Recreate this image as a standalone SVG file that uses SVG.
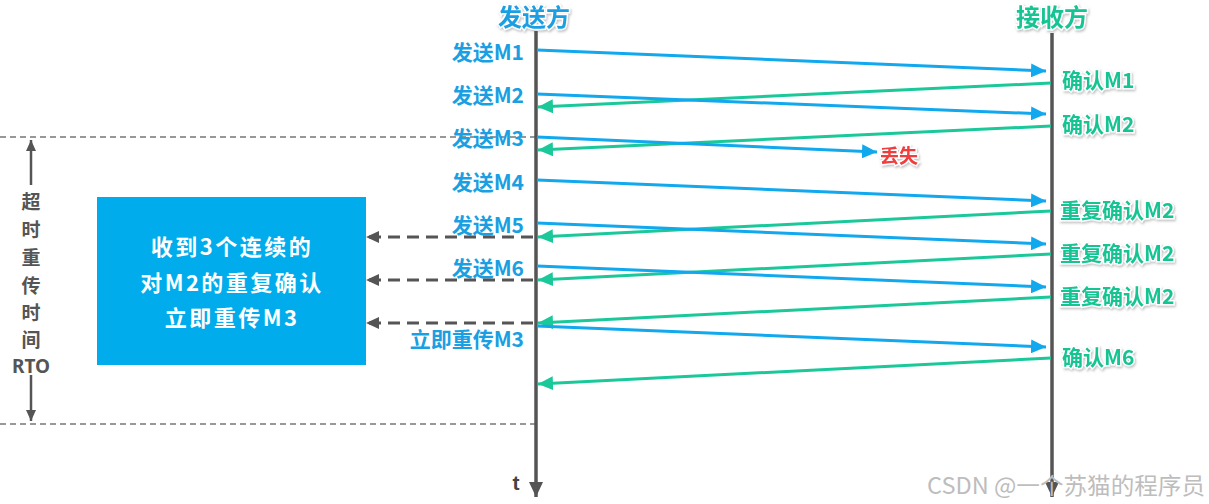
<svg xmlns="http://www.w3.org/2000/svg" width="1209" height="504" viewBox="0 0 1209 504">
<defs>
<style>
.cjk{font-family:"Noto Sans CJK SC","Noto Sans",sans-serif;font-weight:bold;}
.lb{font-size:21px;fill:#1a9fe2;}
.lg{font-size:21px;fill:#17c493;}
.sh{stroke:#fff;stroke-width:3;paint-order:stroke;filter:url(#shadow);}
.life{stroke:#555;stroke-width:3.5;fill:none;}
.mb{stroke:#12a8ee;stroke-width:3;fill:none;marker-end:url(#ab);}
.mg{stroke:#1ac89a;stroke-width:3;fill:none;marker-end:url(#ag);}
.dash{stroke:#555;stroke-width:3;stroke-dasharray:12 7;fill:none;marker-end:url(#ad);}
.hd{stroke:#777;stroke-width:1.3;stroke-dasharray:6 4;fill:none;}
.rto{stroke:#555;stroke-width:2.5;fill:none;}
</style>
<filter id="shadow" x="-20%" y="-30%" width="140%" height="160%">
<feDropShadow dx="1" dy="1.5" stdDeviation="1" flood-color="#888" flood-opacity="0.55"/>
</filter>
<marker id="ab" markerUnits="userSpaceOnUse" markerWidth="16" markerHeight="14" refX="15" refY="7" orient="auto"><path d="M0,0 L15,7 L0,14 Z" fill="#12a8ee"/></marker>
<marker id="ag" markerUnits="userSpaceOnUse" markerWidth="16" markerHeight="14" refX="15" refY="7" orient="auto"><path d="M0,0 L15,7 L0,14 Z" fill="#1ac89a"/></marker>
<marker id="ad" markerUnits="userSpaceOnUse" markerWidth="14" markerHeight="12" refX="13" refY="6" orient="auto"><path d="M0,0 L13,6 L0,12 Z" fill="#555"/></marker>
<marker id="ak" markerUnits="userSpaceOnUse" markerWidth="16" markerHeight="14" refX="15" refY="7" orient="auto"><path d="M0,0 L15,7 L0,14 Z" fill="#555"/></marker>
<marker id="ar" markerUnits="userSpaceOnUse" markerWidth="12" markerHeight="10" refX="11" refY="5" orient="auto"><path d="M0,0 L11,5 L0,10 Z" fill="#555"/></marker>
</defs>
<rect width="1209" height="504" fill="#fff"/>

<g id="timeout-lines">
<line class="hd" x1="0" y1="137" x2="536" y2="137"/>
<line class="hd" x1="0" y1="424" x2="536" y2="424"/>
</g>

<g id="sender">
<text class="cjk sh" x="534" y="26" text-anchor="middle" font-size="24" fill="#1a9fe2">发送方</text>
<line class="life" x1="536" y1="31" x2="536" y2="497" marker-end="url(#ak)"/>
<text x="516" y="490" text-anchor="middle" font-family="Liberation Sans,sans-serif" font-weight="bold" font-size="21" fill="#444">t</text>
</g>

<g id="receiver">
<text class="cjk sh" x="1052" y="26" text-anchor="middle" font-size="24" fill="#17c493">接收方</text>
<line class="life" x1="1052" y1="33" x2="1052" y2="497" marker-end="url(#ak)"/>
</g>

<g id="sender-labels" class="cjk lb" text-anchor="end">
<text x="524" y="60">发送M1</text>
<text x="524" y="103">发送M2</text>
<text x="524" y="146">发送M3</text>
<text x="524" y="190">发送M4</text>
<text x="524" y="233">发送M5</text>
<text x="524" y="276">发送M6</text>
<text x="524" y="347">立即重传M3</text>
</g>

<g id="receiver-labels" class="cjk lg sh">
<text x="1062" y="88">确认M1</text>
<text x="1062" y="132">确认M2</text>
<text x="1060" y="218">重复确认M2</text>
<text x="1060" y="261">重复确认M2</text>
<text x="1060" y="304">重复确认M2</text>
<text x="1062" y="365">确认M6</text>
</g>

<g id="lost">
<text class="cjk sh" x="880" y="163" font-size="19" fill="#f03c3c">丢失</text>
</g>

<g id="rto">
<line class="rto" x1="31" y1="185" x2="31" y2="140" marker-end="url(#ar)"/>
<line class="rto" x1="31" y1="375" x2="31" y2="421" marker-end="url(#ar)"/>
<g class="cjk" font-size="19" fill="#555" text-anchor="middle">
<text x="31" y="209">超</text>
<text x="31" y="237">时</text>
<text x="31" y="265">重</text>
<text x="31" y="293">传</text>
<text x="31" y="320">时</text>
<text x="31" y="347">间</text>
<text x="31" y="373" font-family="Noto Sans,sans-serif">RTO</text>
</g>
</g>

<g id="box">
<rect x="97" y="197" width="269" height="168" fill="#00acec"/>
<g class="cjk" font-size="22" fill="#fff" text-anchor="middle" letter-spacing="2.5">
<text x="232" y="255">收到3个连续的</text>
<text x="232" y="291">对M2的重复确认</text>
<text x="232" y="326">立即重传M3</text>
</g>
</g>

<g id="connectors">
<line class="mb" x1="537" y1="50" x2="1046" y2="71"/>
<line class="mg" x1="1051" y1="83" x2="538" y2="107"/>
<line class="mb" x1="537" y1="94" x2="1046" y2="114"/>
<line class="mg" x1="1051" y1="126" x2="538" y2="150"/>
<line class="mb" x1="537" y1="137" x2="877" y2="152"/>
<line class="mb" x1="537" y1="180" x2="1046" y2="201"/>
<line class="mg" x1="1051" y1="211" x2="538" y2="237"/>
<line class="mb" x1="537" y1="223" x2="1046" y2="244"/>
<line class="mg" x1="1051" y1="254" x2="538" y2="280"/>
<line class="mb" x1="537" y1="266" x2="1046" y2="287"/>
<line class="mg" x1="1051" y1="297" x2="538" y2="323"/>
<line class="mb" x1="537" y1="326" x2="1046" y2="347"/>
<line class="mg" x1="1051" y1="358" x2="538" y2="384"/>
<line class="dash" x1="533" y1="237" x2="366" y2="237"/>
<line class="dash" x1="533" y1="280" x2="366" y2="280"/>
<line class="dash" x1="533" y1="323" x2="366" y2="323"/>
</g>

<text x="927" y="494" font-family="Noto Sans CJK SC,sans-serif" font-size="23" fill="#bdbdbd" textLength="278" lengthAdjust="spacingAndGlyphs">CSDN @一个苏猫的程序员</text>
</svg>
